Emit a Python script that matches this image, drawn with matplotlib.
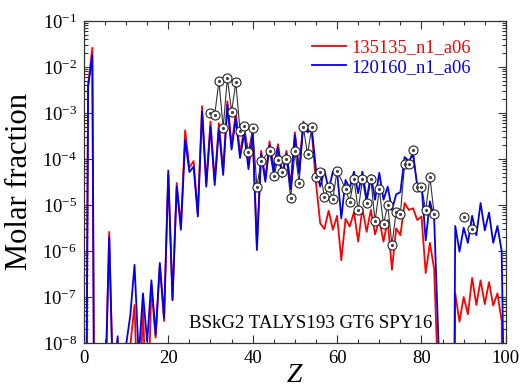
import numpy as np
import matplotlib
matplotlib.use("Agg")
import matplotlib.pyplot as plt
from matplotlib.ticker import LogLocator, FuncFormatter, NullFormatter, MultipleLocator

plt.rcParams['font.family'] = ['Liberation Serif', 'DejaVu Serif']
plt.rcParams['mathtext.fontset'] = 'custom'
plt.rcParams['mathtext.rm'] = 'Liberation Serif'
plt.rcParams['mathtext.it'] = 'Liberation Serif:italic'

# atomic number Z = 0..100 ; 1e-20 stands for "nothing produced"
z = np.arange(0, 101)

blue = [1e-20, 3.7e-3, 1.8e-2, 1e-20, 1e-20, 5e-10, 2.0e-6, 5e-10, 1.4e-8, 1e-12,
        9e-9, 4e-8, 5e-7, 5e-9, 1.2e-7, 1.07e-8, 2.3e-7, 1.5e-8, 5.5e-7, 3.5e-8,
        5.6e-5, 8.5e-8, 2.5e-5, 2.9e-6, 2.6e-4, 5.2e-5, 6.8e-5, 5.6e-6, 1.07e-3, 2.5e-5,
        5e-4, 2.7e-5, 4.6e-4, 4.5e-5, 1.5e-3, 1.6e-4, 7.6e-4, 1.05e-4, 3.7e-4, 6e-5,
        3.5e-4, 1.05e-6, 1.3e-4, 3.2e-5, 2e-4, 5.3e-5, 1.8e-4, 4e-5, 1.3e-4, 2.2e-5,
        3.3e-4, 4.8e-5, 6e-4, 3.8e-4, 4.5e-4, 5.8e-5, 2.5e-5, 5.8e-5, 2.1e-5, 5.3e-5,
        5.5e-5, 5.1e-6, 3.5e-5, 2.3e-5, 5.3e-5, 1.8e-5, 5.3e-5, 1.3e-5, 4.5e-5, 1.3e-5,
        5e-5, 1.3e-5, 2.5e-5, 7.8e-6, 1.7e-5, 1.9e-5, 1.1e-4, 9e-5, 1.25e-4, 2.6e-5,
        2.8e-5, 1.7e-6, 1.2e-5, 5e-6, 1.2e-8, 1e-20, 1e-20, 1e-20, 3.5e-6, 9.7e-7,
        3.2e-6, 1.5e-6, 5.8e-6, 2.2e-6, 1.1e-5, 2.8e-6, 6.8e-6, 1.5e-6, 3.5e-6, 1e-6,
        1e-12]

red = [1e-20, 4.0e-3, 2.6e-2, 1e-20, 1e-20, 5e-10, 2.6e-6, 5e-10, 1.2e-8, 1e-12,
       1e-10, 9e-9, 6.7e-8, 1e-10, 6e-8, 1e-10, 1.8e-7, 1.3e-8, 5e-7, 3e-8,
       4.5e-5, 9e-8, 3e-5, 3.5e-6, 4.2e-4, 6.5e-5, 9e-5, 6.5e-6, 1.4e-3, 3e-5,
       6.5e-4, 3.3e-5, 6e-4, 5.5e-5, 1.8e-3, 2e-4, 1e-3, 1.3e-4, 4.7e-4, 7.5e-5,
       4.2e-4, 1.4e-6, 1.5e-4, 3.8e-5, 2.4e-4, 6.2e-5, 2.1e-4, 4.6e-5, 1.5e-4, 2.6e-5,
       3.8e-4, 5.5e-5, 6.5e-4, 4.2e-4, 3.9e-4, 3e-5, 4e-6, 3e-6, 7.5e-6, 2.9e-6,
       5.8e-6, 6.3e-7, 5e-6, 3.4e-6, 7e-6, 1.6e-6, 8.5e-6, 2.6e-6, 7.8e-6, 2.3e-6,
       4.7e-6, 1.6e-6, 4.7e-6, 3.9e-7, 3.1e-6, 2.2e-6, 1.1e-5, 7.8e-6, 8.5e-6, 4.7e-6,
       5.6e-6, 3.3e-7, 1.5e-6, 4e-7, 1e-9, 1e-20, 1e-20, 1e-20, 1.2e-7, 2.9e-8,
       1e-7, 4.2e-8, 2.6e-7, 6.7e-8, 2.3e-7, 7e-8, 2.1e-7, 6.5e-8, 1.2e-7, 3e-8,
       1e-20]

# solar r-process abundances (circles)
z_obs = [30, 31, 32, 33, 34, 35, 36, 37, 38, 39, 40, 41, 42, 44, 45, 46, 47, 48, 49, 50,
         51, 52, 53, 54, 55, 56, 57, 58, 59, 60, 62, 63, 64, 65, 66, 67, 68, 69, 70, 71,
         72, 73, 74, 75, 76, 77, 78, 79, 80, 81, 82, 83]
obs = [9.8e-4, 9e-4, 5e-3, 4.8e-4, 5.7e-3, 1.07e-3, 4.6e-3, 4.1e-4, 5.2e-4, 1.4e-4,
       4.7e-4, 2.5e-5, 9e-5, 1.5e-4, 4.3e-5, 9.5e-5, 5.2e-5, 1.02e-4, 1.4e-5, 1.5e-4,
       3e-5, 5e-4, 1.26e-4, 4.9e-4, 4e-5, 5.2e-5, 1.5e-5, 2.4e-5, 1.35e-5, 5.6e-5,
       2.2e-5, 1.18e-5, 3.6e-5, 7.6e-6, 3.6e-5, 1.1e-5, 3.6e-5, 4.4e-6, 2.2e-5, 3.8e-6,
       1e-5, 1.35e-6, 7.1e-6, 6.3e-6, 7.8e-5, 7.8e-5, 1.6e-4, 2.4e-5, 2.5e-5, 7.6e-6,
       4.1e-5, 6.3e-6]
z_act = [90, 92]
obs_act = [5.6e-6, 3e-6]

fig = plt.figure(figsize=(5.21, 3.88), dpi=100)
ax = fig.add_axes([0.161, 0.116, 0.81, 0.830])

ax.plot(z_obs, obs, color='#333333', lw=0.8, zorder=2)
for zz, oo in [(z_obs, obs), (z_act, obs_act)]:
    ax.plot(zz, oo, 'o', ls='none', ms=6.5, mfc='white', mec='#222222', mew=0.8, zorder=5)
    ax.plot(zz, oo, 'o', ls='none', ms=1.3, mfc='#444444', mec='#444444', zorder=6)

ax.plot(z, red, color='#ff0000', lw=1.3, label='135135_n1_a06', zorder=3)
ax.plot(z, blue, color='#0000ee', lw=1.3, label='120160_n1_a06', zorder=4)

ax.set_yscale('log')
ax.set_xlim(0, 100)
ax.set_ylim(1e-8, 1e-1)

ax.xaxis.set_major_locator(MultipleLocator(20))
ax.xaxis.set_minor_locator(MultipleLocator(5))
ax.yaxis.set_major_locator(LogLocator(base=10, numticks=20))
ax.yaxis.set_minor_locator(LogLocator(base=10, subs=np.arange(2, 10), numticks=20))
ax.yaxis.set_minor_formatter(NullFormatter())
ax.yaxis.set_major_formatter(FuncFormatter(lambda v, p: '10$^{%d}$' % round(np.log10(v))))

ax.tick_params(which='both', direction='in', top=True, right=True, labelsize=13.5,
               width=0.8, color='#333333')
ax.tick_params(which='major', length=6)
ax.tick_params(axis='x', which='major', pad=5)
ax.tick_params(axis='y', which='major', pad=5)
ax.tick_params(which='minor', length=3)
for s in ax.spines.values():
    s.set_linewidth(0.9)
    s.set_color('#333333')

ax.set_xlabel('$Z$', fontsize=20, labelpad=-3)
ax.set_ylabel('Molar fraction', fontsize=22, labelpad=6)

leg = ax.legend(loc='upper right', bbox_to_anchor=(0.935, 0.965), frameon=False, fontsize=13.3,
                handlelength=1.85, handletextpad=0.3, labelspacing=0.12, borderaxespad=0)
for t, c in zip(leg.get_texts(), ['#ff0000', '#0000ee']):
    t.set_color(c)

ax.text(0.538, 0.06, 'BSkG2 TALYS193 GT6 SPY16', transform=ax.transAxes, fontsize=13.6,
        ha='center', va='center')

fig.savefig('out.png', dpi=100)
